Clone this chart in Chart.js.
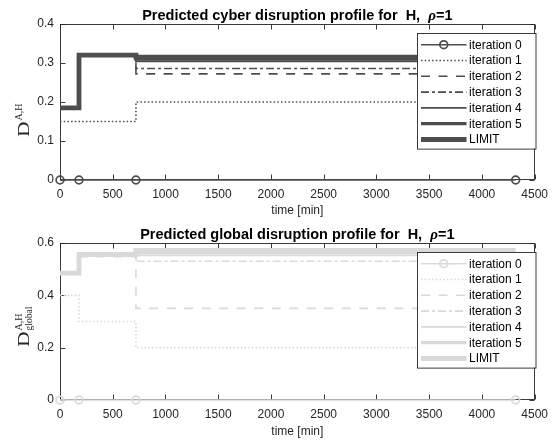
<!DOCTYPE html>
<html><head><meta charset="utf-8">
<script src="https://cdn.jsdelivr.net/npm/chart.js@4/dist/chart.umd.min.js"></script>
<style>
html,body{margin:0;padding:0;background:#fff;width:555px;height:443px;overflow:hidden}
.wrap{position:absolute;left:0;width:555px}
#w1{top:0;height:222px}
#w2{top:222px;height:221px}
canvas{display:block}
</style></head><body>
<div class="wrap" id="w1"><canvas id="c1" width="555" height="222"></canvas></div>
<div class="wrap" id="w2"><canvas id="c2" width="555" height="221"></canvas></div>
<script>
// ---- data ----
const timeSteps = [0, 180, 720, 4320];
const seriesLabels = ['iteration 0','iteration 1','iteration 2','iteration 3','iteration 4','iteration 5','LIMIT'];
const xTickValues = [0,500,1000,1500,2000,2500,3000,3500,4000,4500];
const cyberYTicks = [0,0.1,0.2,0.3,0.4];
const globalYTicks = [0,0.2,0.4,0.6];

const cyberIter0 = [0, 0, 0, 0];
const cyberIter1 = [0.15, 0.15, 0.20, 0.20];
const cyberIter2 = [0.185, 0.32, 0.272, 0.272];
const cyberIter3 = [0.185, 0.32, 0.286, 0.286];
const cyberIter4 = [0.185, 0.32, 0.304, 0.304];
const cyberIter5 = [0.185, 0.32, 0.310, 0.310];
const cyberLimit = [0.185, 0.32, 0.315, 0.315];

const globalIter0 = [0, 0, 0, 0];
const globalIter1 = [0.40, 0.30, 0.20, 0.20];
const globalIter2 = [0.485, 0.548, 0.35, 0.35];
const globalIter3 = [0.485, 0.556, 0.53, 0.53];
const globalIter4 = [0.485, 0.556, 0.553, 0.553];
const globalIter5 = [0.485, 0.556, 0.563, 0.563];
const globalLimit = [0.485, 0.556, 0.572, 0.572];

// ---- styles ----
const lineStyles = [
  {w:1.5, dash:[], marker:true},
  {w:1.6, dash:[1.5,2.2]},
  {w:1.6, dash:[9,8.5]},
  {w:1.6, dash:[8,3,3,3]},
  {w:1.8, dash:[]},
  {w:3.2, dash:[]},
  {w:4.8, dash:[]}
];
const SANS = '"Liberation Sans", Arial, Helvetica, sans-serif';
const SERIF = '"Liberation Serif", "Times New Roman", serif';
const AXC = '#262626';

function buildDatasets(series, color){
  return series.map((vals, i) => {
    const st = lineStyles[i];
    return {
      label: seriesLabels[i],
      data: timeSteps.map((t, k) => ({x: t, y: vals[k]})),
      stepped: true,
      borderColor: color,
      borderWidth: st.w,
      borderDash: st.dash,
      borderCapStyle: 'butt',
      borderJoinStyle: 'miter',
      pointRadius: st.marker ? 3.9 : 0,
      pointStyle: 'circle',
      pointBorderWidth: 1.7,
      pointBorderColor: color,
      pointBackgroundColor: 'rgba(0,0,0,0)',
      fill: false,
      clip: false,
      order: series.length - i,
      _marker: !!st.marker
    };
  });
}

function makeChart(id, cfg){
  const plugins = [{
    id: 'axesBox',
    beforeDatasetsDraw(chart){
      const {ctx, chartArea:a, scales:{x, y}} = chart;
      ctx.save();
      ctx.strokeStyle = AXC; ctx.lineWidth = 0.9;
      const L = Math.round(a.left)+0.5, R = Math.round(a.right)-0.5, T = Math.round(a.top)+0.5, B = Math.round(a.bottom)-0.5;
      ctx.strokeRect(L, T, R-L, B-T);
      const tl = 5;
      ctx.beginPath();
      xTickValues.forEach(v => {
        const px = Math.round(x.getPixelForValue(v))+0.5;
        ctx.moveTo(px, B); ctx.lineTo(px, B - tl);
        ctx.moveTo(px, T); ctx.lineTo(px, T + tl);
      });
      cfg.yTicks.forEach(v => {
        const py = Math.round(y.getPixelForValue(v))+0.5;
        ctx.moveTo(L, py); ctx.lineTo(L + tl, py);
        ctx.moveTo(R, py); ctx.lineTo(R - tl, py);
      });
      ctx.stroke();
      ctx.restore();
    },
    afterDraw(chart){
      const {ctx, chartArea:a} = chart;
      ctx.save();
      // title
      const cx = (a.left + a.right)/2;
      const p1 = cfg.title + '  H,  ', p2 = '\u03C1', p3 = '=1';
      const fB = 'bold 14.5px ' + SANS, fI = 'italic bold 15px ' + SERIF;
      ctx.font = fB; const w1 = ctx.measureText(p1).width, w3 = ctx.measureText(p3).width;
      ctx.font = fI; const w2 = ctx.measureText(p2).width;
      let sx = cx - (w1+w2+w3)/2;
      ctx.fillStyle = '#000'; ctx.textBaseline = 'alphabetic'; ctx.textAlign = 'left';
      ctx.font = fB; ctx.fillText(p1, sx, cfg.titleY);
      ctx.font = fI; ctx.fillText(p2, sx + w1, cfg.titleY);
      ctx.font = fB; ctx.fillText(p3, sx + w1 + w2, cfg.titleY);
      // x title
      ctx.fillStyle = AXC; ctx.font = '12px ' + SANS; ctx.textAlign = 'center'; ctx.textBaseline = 'middle';
      ctx.fillText('time [min]', cx, cfg.xTitleY);
      // y title (rotated)
      ctx.save();
      ctx.translate(cfg.yLab.x, cfg.yLab.y);
      ctx.rotate(-Math.PI/2);
      ctx.textAlign = 'left'; ctx.textBaseline = 'alphabetic'; ctx.fillStyle = AXC;
      ctx.font = '16px ' + SERIF;
      ctx.save(); ctx.scale(1.35, 1); ctx.fillText('D', 0, 0); ctx.restore();
      const dw = ctx.measureText('D').width * 1.35 + 1;
      ctx.font = '10px ' + SERIF;
      ctx.fillText('A,H', dw, -6.5);
      if (cfg.yLab.sub) { ctx.font = '9.5px ' + SERIF; ctx.fillText(cfg.yLab.sub, dw, 3.5); }
      ctx.restore();
      // legend
      const lx = a.left + cfg.legend.dx, ly = a.top + 9, lw = 118.5, rowH = 15.8;
      const lh = rowH * chart.data.datasets.length + 5;
      ctx.fillStyle = '#fff';
      ctx.fillRect(lx, ly, lw, lh);
      ctx.strokeStyle = AXC; ctx.lineWidth = 0.9;
      ctx.strokeRect(Math.round(lx)+0.5, Math.round(ly)+0.5, lw, lh);
      chart.data.datasets.forEach((ds, i) => {
        const yy = ly + 11.7 + i*rowH;
        const x0 = lx + 4, x1 = lx + 49.5;
        ctx.save();
        ctx.strokeStyle = ds.borderColor; ctx.lineWidth = ds.borderWidth;
        ctx.setLineDash(ds.borderDash); ctx.lineCap = 'butt';
        ctx.beginPath(); ctx.moveTo(x0, yy); ctx.lineTo(x1, yy); ctx.stroke();
        if (ds._marker) {
          ctx.setLineDash([]); ctx.lineWidth = ds.pointBorderWidth;
          ctx.beginPath(); ctx.arc((x0+x1)/2, yy, ds.pointRadius, 0, Math.PI*2); ctx.stroke();
        }
        ctx.restore();
        ctx.fillStyle = '#000'; ctx.font = '12px ' + SANS; ctx.textAlign = 'left'; ctx.textBaseline = 'middle';
        ctx.fillText(ds.label, x1 + 2.5, yy + 0.5);
      });
      ctx.restore();
    }
  }];

  return new Chart(document.getElementById(id), {
    type: 'line',
    data: { datasets: buildDatasets(cfg.series, cfg.color) },
    options: {
      responsive: false,
      animation: false,
      events: [],
      layout: { padding: { top: cfg.padTop, right: 18, left: 0, bottom: 0 } },
      plugins: { legend: {display:false}, tooltip: {enabled:false}, title: {display:false} },
      scales: {
        x: {
          type: 'linear', min: 0, max: 4500,
          grid: { display: false, drawTicks: false },
          border: { display: false },
          afterBuildTicks: s => { s.ticks = xTickValues.map(v => ({value: v})); },
          ticks: { color: AXC, font: {family: SANS, size: 12}, padding: 7, maxRotation: 0, autoSkip: false,
                   callback: v => String(v) },
          afterFit: s => { s.height = cfg.xHeight; }
        },
        y: {
          type: 'linear', min: 0, max: cfg.yMax,
          grid: { display: false, drawTicks: false },
          border: { display: false },
          afterBuildTicks: s => { s.ticks = cfg.yTicks.map(v => ({value: v})); },
          ticks: { color: AXC, font: {family: SANS, size: 12}, padding: 6,
                   callback: v => String(+v.toFixed(2)) },
          afterFit: s => { s.width = 60; }
        }
      }
    },
    plugins
  });
}

makeChart('c1', {
  series: [cyberIter0, cyberIter1, cyberIter2, cyberIter3, cyberIter4, cyberIter5, cyberLimit],
  color: '#4d4d4d', yMax: 0.4, yTicks: cyberYTicks,
  title: 'Predicted cyber disruption profile for', titleY: 20, xTitleY: 211,
  padTop: 24, xHeight: 42, legend: {dx: 357},
  yLab: {x: 28.5, y: 137, sub: null}
});
makeChart('c2', {
  series: [globalIter0, globalIter1, globalIter2, globalIter3, globalIter4, globalIter5, globalLimit],
  color: '#d9d9d9', yMax: 0.6, yTicks: globalYTicks,
  title: 'Predicted global disruption profile for', titleY: 17, xTitleY: 210,
  padTop: 21, xHeight: 43, legend: {dx: 357},
  yLab: {x: 28.5, y: 125, sub: 'global'}
});
</script>
</body></html>
